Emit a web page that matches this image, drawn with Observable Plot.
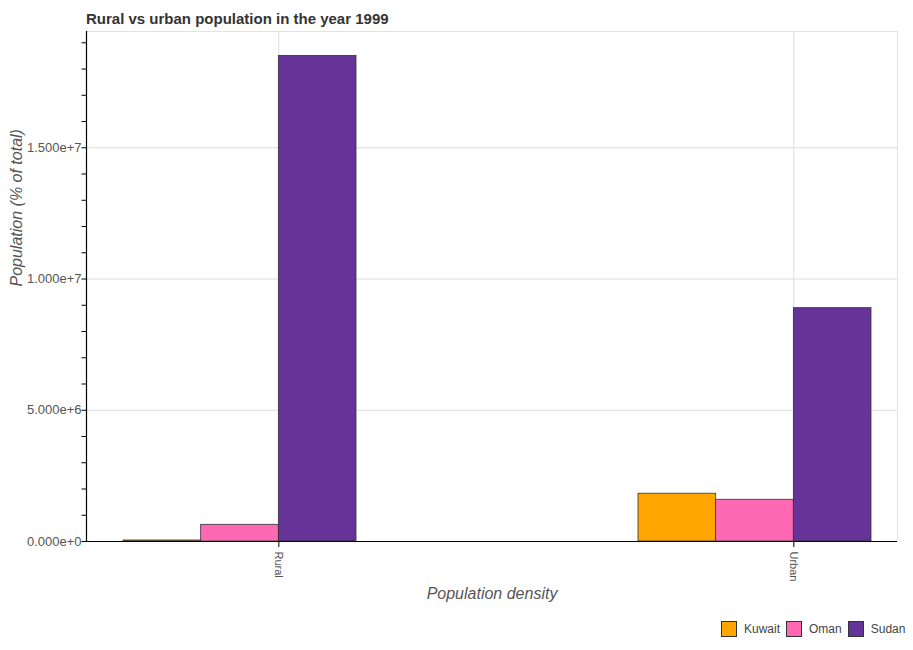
<!DOCTYPE html>
<html><head><meta charset="utf-8">
<script src="https://cdn.jsdelivr.net/npm/d3@7"></script>
<script src="https://cdn.jsdelivr.net/npm/@observablehq/plot@0.6"></script>
<style>
body{margin:0;background:#fff;font-family:"Liberation Sans",Arial,sans-serif;}
#wrap{position:relative;width:913px;height:650px;}
#title{position:absolute;left:86px;top:11px;font-size:15px;line-height:1;font-weight:bold;color:#333;white-space:nowrap;}
#legend{position:absolute;left:721px;top:621px;display:flex;align-items:center;font-size:12px;color:#444;}
.item{display:flex;align-items:center;margin-right:6px;}
.sw{width:14px;height:14px;border:1px solid #333;margin-right:7px;}
</style></head>
<body>
<div id="wrap">
  <div id="chart"></div>
  <div id="title">Rural vs urban population in the year 1999</div>
  <div id="legend"></div>
</div>
<script>
const categories = ["Rural", "Urban"];
const countries = ["Kuwait", "Oman", "Sudan"];
const colors = ["#FFA500", "#FF69B4", "#663399"];
const kuwait = [38000, 1820000];
const oman = [636000, 1590000];
const sudan = [18500000, 8890000];
const yTicks = d3.range(0, 19000001, 1000000);
const yMajor = [0, 5000000, 10000000, 15000000];
const yLabel = "Population (% of total)";
const xLabel = "Population density";

const series = [kuwait, oman, sudan];
const data = [];
countries.forEach((c, i) => categories.forEach((cat, j) => data.push({country: c, category: cat, value: series[i][j]})));

const W = 913, H = 650, mL = 86, mR = 16, mT = 31, mB = 109;
const pi = 0.548, po = 0.0606;
const step = (W - mL - mR) / (categories.length - pi + 2 * po);
const bw = step * (1 - pi) / countries.length;
const tickShift = step * (1 - pi) / 2 - bw;
const fmt = d3.format(".3e");

const barMarks = countries.map((c, i) => Plot.barY(data.filter(d => d.country === c), {
  x: "category", y: "value", fill: colors[i], stroke: "#333", strokeWidth: 0.8,
  insetLeft: i * bw, insetRight: (countries.length - 1 - i) * bw
}));

const chart = Plot.plot({
  width: W, height: H,
  marginTop: mT, marginBottom: mB, marginLeft: mL, marginRight: mR,
  style: {fontFamily: "'Liberation Sans', Arial, sans-serif", background: "white"},
  x: {domain: categories, paddingInner: pi, paddingOuter: po, align: 0.59, axis: null},
  y: {domain: [0, 19430000], axis: null},
  marks: [
    Plot.frame({stroke: "#e3e3e3"}),
    Plot.gridY(yMajor, {stroke: "#dcdcdc", strokeOpacity: 1}),
    Plot.gridX({dx: tickShift, stroke: "#dcdcdc", strokeOpacity: 1}),
    ...barMarks,
    Plot.axisY(yTicks, {tickFormat: d => yMajor.includes(d) ? fmt(d) : "", tickSize: 4.5, tickPadding: 0.5,
      fontSize: 13, stroke: "black", fill: "#555", label: null}),
    Plot.axisX({dx: tickShift, tickRotate: 90, tickSize: 6, tickPadding: 4, fontSize: 11,
      stroke: "black", fill: "#555", label: null}),
    Plot.ruleY([0], {stroke: "black", strokeWidth: 1.2}),
    Plot.frame({anchor: "left", stroke: "black", strokeWidth: 1.2}),
    Plot.text([yLabel], {text: d => d, frameAnchor: "left", dx: -70, rotate: -90, fontSize: 16, fontStyle: "italic", fill: "#555"}),
    Plot.text([xLabel], {text: d => d, frameAnchor: "bottom", dy: 57, fontSize: 16, fontStyle: "italic", fill: "#555"})
  ]
});
document.getElementById("chart").appendChild(chart);

const legend = document.getElementById("legend");
countries.forEach((c, i) => {
  const it = document.createElement("div"); it.className = "item";
  const sw = document.createElement("div"); sw.className = "sw"; sw.style.background = colors[i];
  const t = document.createElement("span"); t.textContent = c;
  it.appendChild(sw); it.appendChild(t); legend.appendChild(it);
});
</script>
</body></html>
